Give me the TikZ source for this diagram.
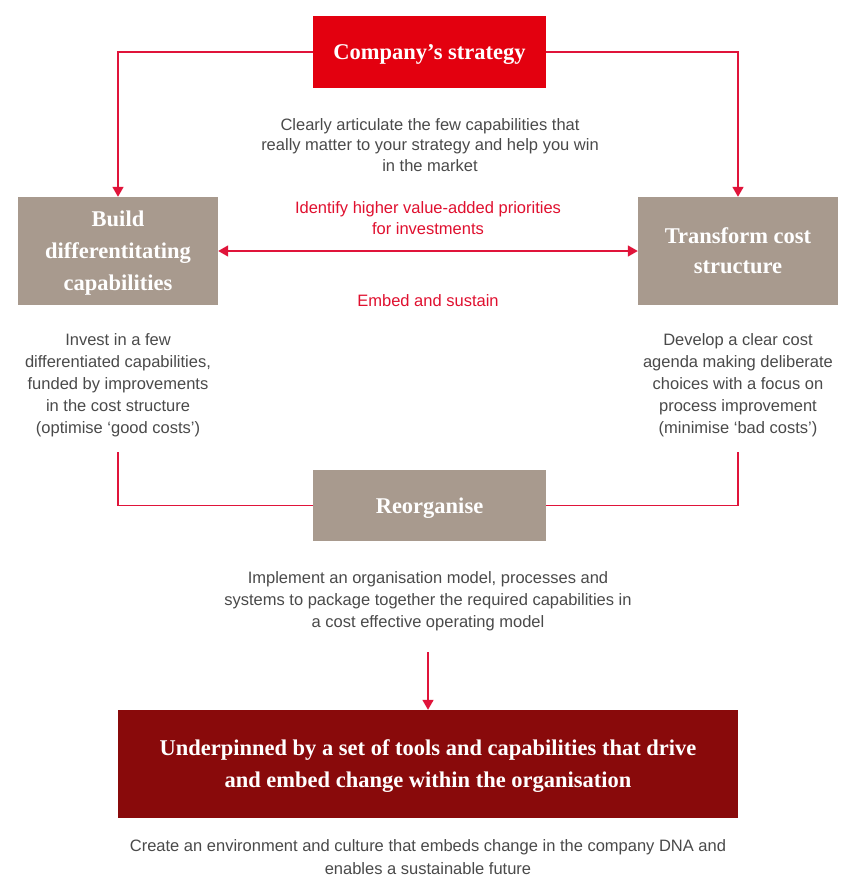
\documentclass[tikz,border=0pt]{standalone}
\usepackage{fontspec}
\setmainfont{Liberation Sans}
\newfontfamily\boxfont{Liberation Serif}
\usetikzlibrary{arrows.meta}
\definecolor{stratred}{HTML}{E3000F}
\definecolor{boxgray}{HTML}{A89A8E}
\definecolor{darkred}{HTML}{890A0B}
\definecolor{linered}{HTML}{E0143A}
\definecolor{txtgray}{HTML}{4A4A4A}
\definecolor{txtred}{HTML}{E0102F}
\tikzset{
  x=1pt, y=-1pt,
  box/.style={rectangle, inner sep=0pt, align=center, text=white, text depth=0pt,
    font=\boxfont\bfseries\fontsize{22.5}{32}\selectfont},
  desc/.style={align=center, text=txtgray, inner sep=0pt,
    font=\fontsize{16.5}{22}\selectfont},
  rdesc/.style={align=center, text=txtred, inner sep=0pt,
    font=\fontsize{16.5}{21}\selectfont},
  conn/.style={draw=linered, line width=1.6pt},
  arr/.style={conn, -{Triangle[width=11pt,length=10pt]}},
  darr/.style={conn, {Triangle[width=11pt,length=10pt]}-{Triangle[width=11pt,length=10pt]}},
}
\begin{document}
\begin{tikzpicture}
\useasboundingbox[fill=white] (0,0) rectangle (866,892);

\node[box, fill=stratred, minimum width=233pt, minimum height=72pt] (strat) at (429.5,52) {Company’s strategy};
\node[box, fill=boxgray, minimum width=200pt, minimum height=108pt] (build) at (118,251) {Build\\differentitating\\capabilities};
\node[box, fill=boxgray, minimum width=200pt, minimum height=108pt, font=\boxfont\bfseries\fontsize{22.5}{30}\selectfont] (trans) at (738,251) {Transform cost\\structure};
\node[box, fill=boxgray, minimum width=233pt, minimum height=71pt] (reorg) at (429.5,505.5) {Reorganise};
\node[box, fill=darkred, minimum width=620pt, minimum height=108pt] (under) at (428,764) {Underpinned by a set of tools and capabilities that drive\\and embed change within the organisation};

\node[desc, font=\fontsize{16.5}{20.5}\selectfont] (clear) at (430,145) {Clearly articulate the few capabilities that\\really matter to your strategy and help you win\\in the market};
\node[rdesc] (ident) at (428,218) {Identify higher value-added priorities\\for investments};
\node[rdesc] (embed) at (428,301) {Embed and sustain};
\node[desc] (invest) at (118,385) {Invest in a few\\differentiated capabilities,\\funded by improvements\\in the cost structure\\(optimise ‘good costs’)};
\node[desc] (develop) at (738,385) {Develop a clear cost\\agenda making deliberate\\choices with a focus on\\process improvement\\(minimise ‘bad costs’)};
\node[desc] (impl) at (428,601.5) {Implement an organisation model, processes and\\systems to package together the required capabilities in\\a cost effective operating model};
\node[desc, font=\fontsize{16.5}{23}\selectfont] (create) at (428,857) {Create an environment and culture that embeds change in the company DNA and\\enables a sustainable future};

\coordinate (lb) at (118,452);
\coordinate (rb) at (738,452);
\coordinate (ds) at (428,652);

\draw[arr] (strat.west) -| (build.north);
\draw[arr] (strat.east) -| (trans.north);
\draw[darr] (build.east) -- (trans.west);
\draw[conn] (lb) |- (reorg.west);
\draw[conn] (rb) |- (reorg.east);
\draw[arr] (ds) -- (under.north -| ds);
\end{tikzpicture}
\end{document}
